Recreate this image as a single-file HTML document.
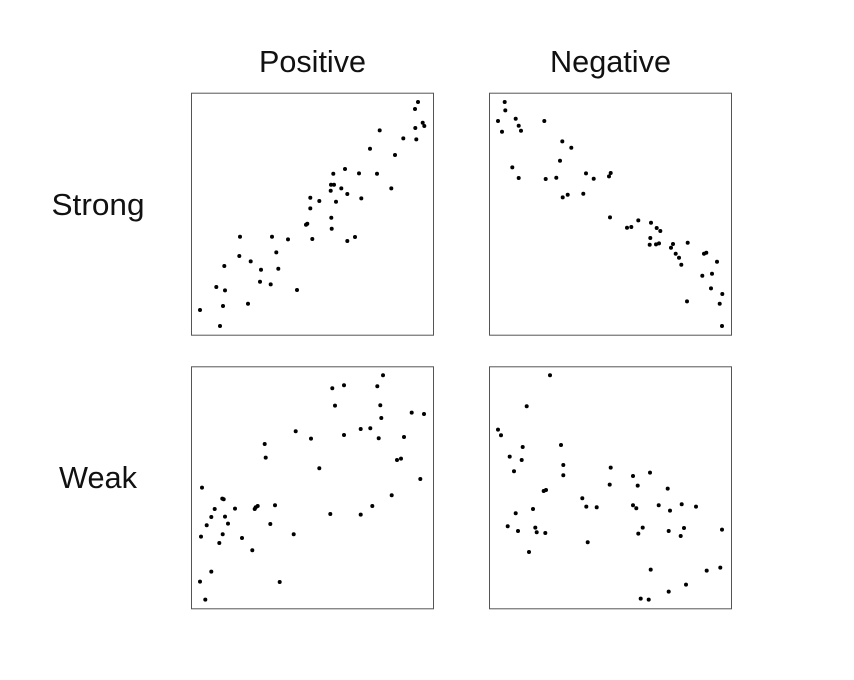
<!DOCTYPE html>
<html lang="en">
<head>
<meta charset="utf-8">
<title>Correlation scatter grid</title>
<style>
html,body{margin:0;padding:0;background:#fff;width:854px;height:680px;overflow:hidden}
svg{display:block}
text{font-family:"Liberation Sans",sans-serif;fill:#111;font-size:31px}
</style>
</head>
<body>
<svg id="chart" width="854" height="680" viewBox="0 0 854 680">
<text x="312.5" y="72" text-anchor="middle" textLength="107" lengthAdjust="spacingAndGlyphs">Positive</text>
<text x="610.5" y="72" text-anchor="middle" textLength="121" lengthAdjust="spacingAndGlyphs">Negative</text>
<text x="98" y="215" text-anchor="middle" textLength="93" lengthAdjust="spacingAndGlyphs">Strong</text>
<text x="98" y="488" text-anchor="middle" textLength="78" lengthAdjust="spacingAndGlyphs">Weak</text>
</svg>
<script>
const strongPositiveX = [227,224,231.7,233.3,224.3,188.7,212.3,225.3,179,204,154,142.3,168,186,140,143,150.3,200.3,139.7,156.3,119.3,170.3,128.3,145,119.3,140.3,116.3,115,140.7,49,81,164,121.3,97,156.3,85.3,48.3,59.7,33.3,87.3,70,69,79.7,25.3,34,106,57,32,9,29];
const strongPositiveY = [232.7,225.7,212,208.7,206.7,204.3,196.3,195.3,186,179.7,165.7,161,161.3,161,150,150,146.3,146.3,144,140.7,137,136.3,133.7,133,126.3,117,111,110,106,98,98,97.7,95.7,95.3,93.7,82.3,78.7,73.3,68.7,66,65,53,50.3,47.7,44.3,44.7,31,28.7,24.7,8.7];
const strongNegativeX = [15.7,16.3,9,26.7,55.3,29.7,32,13,73.3,82.3,71,23.3,121.7,97,120,29.7,67.3,56.7,104.7,94.3,78.7,73.7,121,149.3,162,142.3,138,167.7,171.3,161.3,198.7,160.7,167,170,184,182,217.3,215,186.7,190,228,192.3,223,213.3,222,233.3,198,230.7,233];
const strongNegativeY = [232.7,224.3,213.7,216,213.7,209,204,203,193.3,187,174,167.3,161.7,161.3,158.3,156.7,157,155.7,156,141,140,137.3,117.3,114.3,112,107.7,107,106.7,103.7,96.7,92,90,90.3,91.3,90.7,87,82,81,81,77,73,70,61,59,46.3,40.7,33.3,31,8.7];
const weakPositiveX = [192,153,141.3,186.3,144,189.3,220.7,233,190.3,104.7,169.7,179.3,153,120,187.7,213,73.7,74.7,210,206,128.3,229.3,11,200.7,31.3,32.7,84,66.7,64.7,63.7,44,23.7,181.3,139.3,169.7,20.3,34,37,79.3,15.7,31.7,102.7,10,51,28.3,61.3,20.3,9,88.7,14.3];
const weakPositiveY = [233,223,220,222,202.7,203,195.7,194.3,190.3,177,179.3,180,173.3,169.7,170,171.3,164.3,150.7,149.7,148.3,140,129.3,120.7,113,109.7,109,103,102.3,101,99.3,99.7,99.3,102.3,94.3,93.7,91.3,91.7,84.7,84.3,83,74,74,71.7,70.3,65.3,58,36.7,26.7,26.3,8.7];
const weakNegativeX = [61,37.7,9,12,33.7,72,20.7,32.7,74.3,121.7,25,161,144,74.3,120.7,148.7,178.7,57,54.7,93.3,192.7,144,169.7,97.3,107.7,207,147.3,44,181,26.7,18.7,46.3,153.7,195,233,29,179.7,47.7,56.3,149.3,191.7,98.7,40,161.7,231.3,217.7,197,179.7,151.7,159.7];
const weakNegativeY = [233,202,178.7,173,161.3,163.3,151.7,148.3,143.3,140.7,137,135.7,132.3,133,123.7,122.7,119.7,118.3,117.3,110,104,103,103,101.7,101,101.7,100,99.3,97.7,95,82,80.7,80.7,80.3,78.7,77.3,77.3,76,75.3,74.7,72.3,66,56.3,38.7,40.7,37.7,23.7,16.7,9.7,8.7];
const domainMax = 242;

const SVG_NS = 'http://www.w3.org/2000/svg';
const chart = document.getElementById('chart');

function xAxis(left, value) {
  return left + value / domainMax * 242;
}
function yAxis(bottom, value) {
  return bottom - value / domainMax * 242;
}

function drawPanel(name, left, bottom, xs, ys) {
  const group = document.createElementNS(SVG_NS, 'g');
  
  
  const frame = document.createElementNS(SVG_NS, 'rect');
  frame.setAttribute('x', left + 0.5);
  frame.setAttribute('y', bottom - 241.5);
  frame.setAttribute('width', 242);
  frame.setAttribute('height', 242);
  frame.setAttribute('fill', '#fff');
  frame.setAttribute('stroke', '#555');
  frame.setAttribute('stroke-width', '1');
  
  
  group.appendChild(frame);
  xs.forEach(function (xValue, i) {
    const point = document.createElementNS(SVG_NS, 'circle');
    point.setAttribute('cx', xAxis(left, xValue));
    point.setAttribute('cy', yAxis(bottom, ys[i]));
    point.setAttribute('r', 2);
    point.setAttribute('fill', '#000');
    
    
    group.appendChild(point);
  });
  chart.appendChild(group);
}

drawPanel('strong-positive', 191, 334.7, strongPositiveX, strongPositiveY);
drawPanel('strong-negative', 489, 334.7, strongNegativeX, strongNegativeY);
drawPanel('weak-positive', 191, 608.3, weakPositiveX, weakPositiveY);
drawPanel('weak-negative', 489, 608.3, weakNegativeX, weakNegativeY);
</script>
</body>
</html>
